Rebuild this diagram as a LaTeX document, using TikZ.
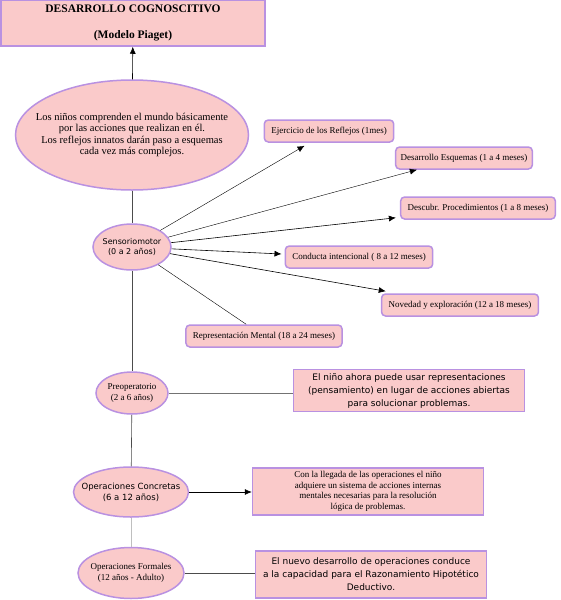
\documentclass[tikz,border=0pt]{standalone}
\usepackage{fontspec}
\setmainfont{Liberation Serif}
\setsansfont{DejaVu Sans}
\usetikzlibrary{arrows.meta,shapes.geometric,positioning,calc}
\usepackage{xcolor}
\definecolor{rosa}{RGB}{250,202,202}
\definecolor{lila}{RGB}{185,145,225}
\newcommand{\mylw}{1.5pt}
\tikzset{
    titlesty/.style={draw=lila,fill=rosa,line width=\mylw,rectangle,minimum width=264pt,minimum height=46pt,align=center,font=\bfseries\fontsize{11.5}{13}\selectfont},
    ovalsty/.style={draw=lila,fill=rosa,line width=\mylw,ellipse,inner xsep=-20pt,inner ysep=0pt,align=center},
    edadsty/.style={draw=lila,fill=rosa,line width=\mylw,rectangle,rounded corners=4pt,minimum height=22pt,inner xsep=7pt,font=\fontsize{9}{11}\selectfont},
    descsty/.style={draw=lila,fill=rosa,line width=\mylw,rectangle,align=center,minimum width=231pt},
    serifsty/.style={font=\fontsize{9}{10.5}\selectfont},
    sanssty/.style={font=\sffamily\fontsize{9}{13}\selectfont},
    flechasty/.style={->,line width=0.6pt},
    finasty/.style={line width=0.4pt},
    ejesty/.style={draw=black!70,line width=0.6pt},
}

\begin{document}
\begin{tikzpicture}[>={Latex[length=7pt,width=6pt]},x=1pt,y=-1pt]
  \useasboundingbox (0,0) rectangle (560,600);

  \node[titlesty] (titulo) at (133,23) {DESARROLLO COGNOSCITIVO\\[13pt](Modelo Piaget)};
  \node[ovalsty,minimum width=233pt,minimum height=110pt,font=\fontsize{10.5}{11.5}\selectfont] (idea) at (132,135)
    {Los niños comprenden el mundo básicamente\\por las acciones que realizan en él.\\Los reflejos innatos darán paso a esquemas\\cada vez más complejos.};

  % etapas
  \node[ovalsty,minimum width=78pt,minimum height=46pt,font=\sffamily\fontsize{8}{10}\selectfont] (senso) at (132,247) {Sensoriomotor\\(0 a 2 años)};
  \node[ovalsty,minimum width=72pt,minimum height=42pt,serifsty] (preop) at (132,393) {Preoperatorio\\(2 a 6 años)};
  \node[ovalsty,minimum width=115pt,minimum height=50pt,font=\sffamily\fontsize{8.5}{11}\selectfont] (concr) at (131,492) {Operaciones Concretas\\(6 a 12 años)};
  \node[ovalsty,minimum width=106pt,minimum height=51pt,serifsty] (formal) at (131,573) {Operaciones Formales\\(12 años - Adulto)};

  % subestadios sensoriomotores
  \node[edadsty] (reflejos) at (329,131) {Ejercicio de los Reflejos (1mes)};
  \node[edadsty,inner xsep=5pt] (esquemas) at (464,158) {Desarrollo Esquemas (1 a 4 meses)};
  \node[edadsty] (procedim) at (478,208) {Descubr. Procedimientos (1 a 8 meses)};
  \node[edadsty] (conducta) at (359,257) {Conducta intencional ( 8 a 12 meses)};
  \node[edadsty] (novedad) at (460,305) {Novedad y exploración (12 a 18 meses)};
  \node[edadsty] (mental) at (264,336) {Representación Mental (18 a 24 meses)};

  % descripciones
  \node[descsty,sanssty,minimum height=35pt] (descpre) at (409,390.5) {El niño ahora puede usar representaciones\\(pensamiento) en lugar de acciones abiertas\\para solucionar problemas.};
  \node[descsty,serifsty,minimum height=47pt] (descconc) at (368,491.5) {Con la llegada de las operaciones el niño\\adquiere un sistema de acciones internas\\mentales necesarias para la resolución\\lógica de problemas.};
  \node[descsty,sanssty,minimum height=47pt] (descform) at (371,574.5) {El nuevo desarrollo de operaciones conduce\\a la capacidad para el Razonamiento Hipotético\\Deductivo.};

  \draw[flechasty] (idea) -- (titulo);
  \draw[ejesty] (idea) -- (senso);
  \draw[ejesty] (senso) -- (preop);
  \draw[ejesty] (preop) -- (concr);
  \draw[draw=black!25,line width=0.6pt] (concr) -- (formal);

  \draw[finasty,->] (senso) -- ([shift={(41pt,-3pt)}]reflejos.south west);
  \draw[finasty,->] (senso) -- ([xshift=22pt]esquemas.south west);
  \draw[flechasty] (senso) -- ([shift={(-4pt,2pt)}]procedim.south west);
  \draw[flechasty] (senso) -- ([shift={(-3pt,3pt)}]conducta.west);
  \draw[flechasty] (senso) -- ([shift={(5pt,2pt)}]novedad.north west);
  \draw[finasty] (senso) -- ([xshift=61pt]mental.north west);

  \draw[draw=black!55,line width=0.6pt] (preop) -- (preop -| descpre.west);
  \draw[flechasty] (concr) -- (concr -| descconc.west);
  \draw[ejesty] (formal) -- (formal -| descform.west);
\end{tikzpicture}
\end{document}
